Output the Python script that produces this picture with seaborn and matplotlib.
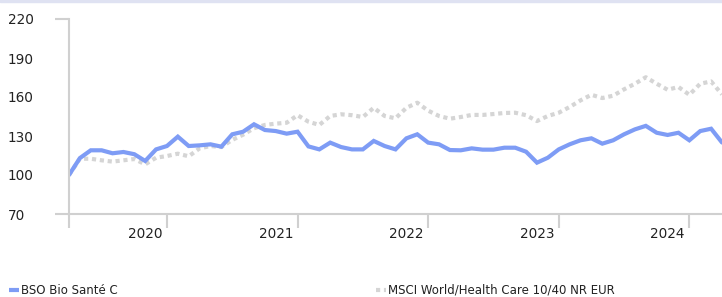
import numpy as np
import pandas as pd
import matplotlib
matplotlib.use("Agg")
import matplotlib.pyplot as plt
from matplotlib.lines import Line2D
from matplotlib.patches import Rectangle
import seaborn as sns

# monthly points, april 2019 -> april 2024
months = pd.period_range("2019-04", "2024-04", freq="M")

fund = [100, 113, 119, 119, 116.7, 117.7, 116, 110.8, 119.7, 122.3,
        129.5, 122.3, 122.8, 123.6, 121.8, 131.3, 133.3, 139, 134.6, 133.8,
        131.8, 133.3, 122, 119.7, 124.9, 121.5, 119.7, 119.7, 126.2, 122.3,
        119.7, 128.2, 131.3, 124.9, 123.6, 119.2, 119, 120.5, 119.5, 119.5,
        121, 121, 117.9, 109.5, 113.3, 119.7, 123.6, 126.7, 128.2, 124.1,
        126.7, 131.3, 135.1, 137.8, 132.5, 130.8, 132.5, 126.7, 133.8, 135.6,
        125]

index = [100, 112.5, 112.5, 111.3, 110.3, 111.3, 112.3, 108.2, 113.3, 114.6,
         116.4, 114.4, 120.5, 122.3, 121.5, 127, 131, 136, 138.5, 139.5,
         140.2, 146, 141, 138.5, 145.4, 146.7, 146, 144.6, 151.7, 145.4,
         143.6, 151.7, 155.6, 149.5, 145.4, 143.3, 144.6, 146.2, 146.2, 146.9,
         147.7, 147.9, 146, 141.5, 145.4, 147.9, 152.3, 157.4, 161.7, 159.2,
         161, 165.9, 170.2, 175.2, 170.2, 165.6, 167.7, 161.7, 170.2, 172,
         162]

fund_name = "BSO Bio Santé C"
index_name = "MSCI World/Health Care 10/40 NR EUR"

blue = "#7e9cf5"
grey = "#d5d5d5"
axis_col = "#d0d0d0"

df = pd.DataFrame({"x": np.arange(len(months)), "fund": fund, "index": index})

W, H = 722, 297
fig = plt.figure(figsize=(W / 100, H / 100), dpi=100)
ax = fig.add_axes([69 / W, (H - 214) / H, (W - 69) / W, 195 / H])
sns.set_style("white")
plt.rcParams["font.family"] = ["DejaVu Sans"]

sns.lineplot(data=df, x="x", y="index", ax=ax, color=grey, linewidth=3.0)
ax.lines[-1].set_linestyle((0, (1, 0.9)))
ax.lines[-1].set_dash_capstyle("butt")
sns.lineplot(data=df, x="x", y="fund", ax=ax, color=blue, linewidth=3.0)
ax.lines[-1].set_solid_joinstyle("miter")

ax.set_xlim(0, len(months) - 1)
ax.set_ylim(70, 220)
ax.set_xlabel("")
ax.set_ylabel("")

# y axis: labels left aligned, small marks only at 70 and 220
ax.set_yticks([70, 220])
ax.set_yticks([100, 130, 160, 190], minor=True)
ax.set_yticklabels(["70", "220"])
ax.set_yticklabels(["100", "130", "160", "190"], minor=True)
ax.tick_params(axis="y", which="major", length=10, width=1.5, color=axis_col,
               pad=34, labelsize=9.8, labelcolor="#222222")
ax.tick_params(axis="y", which="minor", length=0, pad=44, labelsize=9.8,
               labelcolor="#222222")
for t in ax.get_yticklabels() + ax.get_yticklabels(minor=True):
    t.set_horizontalalignment("left")

# x axis: marks at january, year label a bit before
jan = [0] + [i for i, m in enumerate(months) if m.month == 1]
lab_pos = [i for i, m in enumerate(months) if m.month == 11]
lab_txt = [str(months[i].year + 1) for i in lab_pos]
ax.set_xticks(jan)
ax.set_xticklabels([""] * len(jan))
ax.tick_params(axis="x", which="major", length=10, width=1.5, color=axis_col)
ax.set_xticks(lab_pos, minor=True)
ax.set_xticklabels(lab_txt, minor=True)
ax.tick_params(axis="x", which="minor", length=0, pad=9.5, labelsize=9.8,
               labelcolor="#222222")

for s in ["top", "right"]:
    ax.spines[s].set_visible(False)
for s in ["left", "bottom"]:
    ax.spines[s].set_color(axis_col)
    ax.spines[s].set_linewidth(1.5)

# thin band on top
fig.patches.append(Rectangle((0, 1 - 2 / H), 1, 2 / H, transform=fig.transFigure,
                             color="#dfe2f2", zorder=0))

# legend at bottom
ly = (H - 290) / H
fig.add_artist(Line2D([9 / W, 19 / W], [ly, ly], transform=fig.transFigure,
                      color=blue, linewidth=3, solid_capstyle="butt"))
fig.text(21 / W, ly, fund_name, fontsize=8.5, va="center", ha="left", color="#222222")
fig.add_artist(Line2D([376 / W, 386 / W], [ly, ly], transform=fig.transFigure,
                      color=grey, linewidth=3, linestyle=(0, (1, 0.9)),
                      dash_capstyle="butt"))
fig.text(388 / W, ly, index_name, fontsize=8.5, va="center", ha="left", color="#222222")

fig.savefig("out.png", dpi=100)
